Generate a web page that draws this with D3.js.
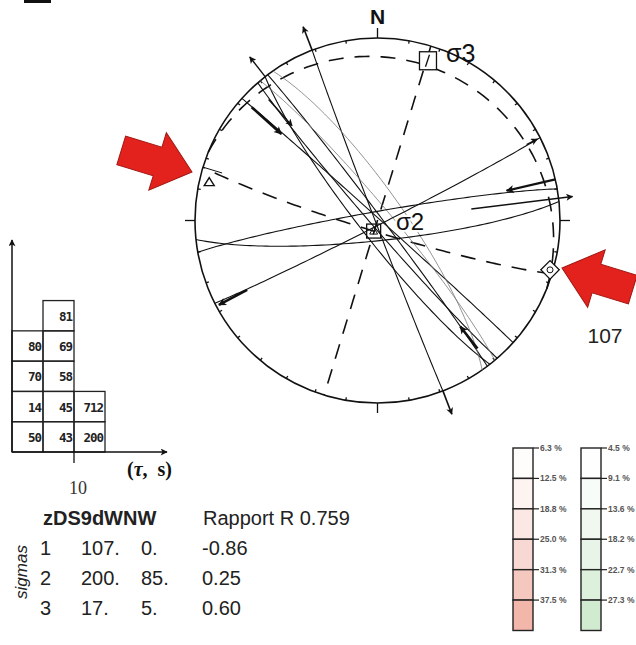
<!DOCTYPE html>
<html><head><meta charset="utf-8">
<script src="https://cdn.jsdelivr.net/npm/d3@7"></script>
<style>html,body{margin:0;padding:0;background:#fff}svg{display:block}</style>
</head><body><svg id="fig" width="636" height="645"></svg>
<script>
// stress tensor result (table under the net)
const siteName = 'zDS9dWNW';
const ratioR = '0.759';
const sigmaIds = [1, 2, 3];
const sigmaTrend = [107, 200, 17];
const sigmaPlunge = [0, 85, 5];
const sigmaRatio = ['-0.86', '0.25', '0.60'];

const faultDipDir = [249, 232, 42, 229, 53, 55, 50, 350, 174, 153];
const faultDip    = [89, 82, 89, 87, 88, 78, 84, 86, 81, 88];
const faultFaint  = [0, 0, 0, 0, 0, 1, 1, 0, 0, 0];

// principal planes (dashed)
const planeDipDir = [107, 197, 22];
const planeDip    = [90, 85, 12];

// striae (trend, plunge) and slip sense: 1 = outward, -1 = inward
const striaeTrend  = [339, 159, 322, 312, 318, 142, 242, 63, 83, 77];
const striaePlunge = [0, 0, 0, 8, 6, 12, 3, 2, 0, 0];
const striaeSense  = [1, 1, 1, -1, -1, -1, 1, 1, 1, -1];

// tau / s histogram, columns bottom-up
const tauCols = [[50, 14, 70, 80], [43, 45, 58, 69, 81], [200, 712]];
const tauTick = '10';

// legend levels
const redLevels   = ['6.3 %', '12.5 %', '18.8 %', '25.0 %', '31.3 %', '37.5 %'];
const greenLevels = ['4.5 %', '9.1 %', '13.6 %', '18.2 %', '22.7 %', '27.3 %'];

const svg = d3.select('#fig');
const SANS = 'Liberation Sans, Arial, sans-serif';
const SERIF = 'Liberation Serif, Times New Roman, serif';
const CX = 377.5, CY = 220.5, R = 182.5;
const k = Math.PI / 180;
const rad = d3.scaleLinear().domain([0, 1]).range([0, R]);

function proj(trend, plunge) {
  const r = rad(Math.SQRT2 * Math.sin((90 - plunge) / 2 * k));
  return [CX + r * Math.sin(trend * k), CY - r * Math.cos(trend * k)];
}
function greatCircle(dd, dip) {
  const s = (dd - 90) * k, D = dd * k, d = dip * k;
  const sv = [Math.sin(s), Math.cos(s)];
  const dv = [Math.cos(d) * Math.sin(D), Math.cos(d) * Math.cos(D), Math.sin(d)];
  return d3.range(0, 180.01, 2).map(t => {
    const c = Math.cos(t * k), sn = Math.sin(t * k);
    const e = c * sv[0] + sn * dv[0], n = c * sv[1] + sn * dv[1], z = sn * dv[2];
    return proj(Math.atan2(e, n) / k, Math.asin(Math.min(1, z)) / k);
  });
}
const line = d3.line().curve(d3.curveLinear);

const defs = svg.append('defs');
[['ah', 10, 7], ['ahBig', 13, 8]].forEach(([id, w, h]) => {
  defs.append('marker').attr('id', id).attr('viewBox', '0 0 10 10')
    .attr('refX', 9).attr('refY', 5).attr('markerWidth', w).attr('markerHeight', h)
    .attr('markerUnits', 'userSpaceOnUse').attr('orient', 'auto')
    .append('path').attr('d', 'M0,0 L10,5 L0,10 L2.5,5 Z').attr('fill', '#111');
});

svg.append('rect').attr('x', 24).attr('y', 0).attr('width', 27).attr('height', 3).attr('fill', '#111');

// ---- stereonet ----
const net = svg.append('g');
net.append('circle').attr('cx', CX).attr('cy', CY).attr('r', R)
  .attr('fill', 'none').attr('stroke', '#111').attr('stroke-width', 1.6);
d3.range(0, 360, 10).forEach(a => {
  const card = a % 90 === 0;
  const r0 = card ? R : R - 3, r1 = card ? R + 10 : R;
  net.append('line')
    .attr('x1', CX + r0 * Math.sin(a * k)).attr('y1', CY - r0 * Math.cos(a * k))
    .attr('x2', CX + r1 * Math.sin(a * k)).attr('y2', CY - r1 * Math.cos(a * k))
    .attr('stroke', '#111').attr('stroke-width', 1.3);
});
net.append('text').attr('x', CX).attr('y', 24).attr('text-anchor', 'middle')
  .attr('font-family', SANS).attr('font-weight', 700).attr('font-size', 21).attr('fill', '#111').text('N');

// dashed principal planes
planeDipDir.forEach((dd, i) => {
  net.append('path').attr('d', line(greatCircle(dd, planeDip[i])))
    .attr('fill', 'none').attr('stroke', '#111').attr('stroke-width', 1.6)
    .attr('stroke-dasharray', '15,11');
});

// fault planes
faultDipDir.forEach((dd, i) => {
  net.append('path').attr('d', line(greatCircle(dd, faultDip[i])))
    .attr('fill', 'none').attr('stroke', faultFaint[i] ? '#777' : '#111')
    .attr('stroke-width', faultFaint[i] ? 0.8 : 1.1);
});

// striae arrows, [from, to, width] along the radial direction (outward +)
const arrowGeom = [[0, 25, 1.6], [0, 25, 1.6], [0, 25, 1.4], [0, -40, 2.6], [-10, -45, 1.4],
                   [0, -28, 2.6], [-30, 2, 2.6], [-12, 0, 1.4], [-88, 14, 1.4], [0, -50, 2.2]];
striaeTrend.forEach((t, i) => {
  const p = proj(t, striaePlunge[i]);
  const ux = Math.sin(t * k), uy = -Math.cos(t * k);
  let [a, b, w] = arrowGeom[i];
  if (striaeSense[i] < 0 && b > a) [a, b] = [b, a];
  net.append('line')
    .attr('x1', p[0] + ux * a).attr('y1', p[1] + uy * a)
    .attr('x2', p[0] + ux * b).attr('y2', p[1] + uy * b)
    .attr('stroke', '#111').attr('stroke-width', w)
    .attr('marker-end', w > 2 ? 'url(#ahBig)' : 'url(#ah)');
});

// compression direction marks
const pW = proj(sigmaTrend[0] + 180, 0);
net.append('line').attr('x1', pW[0]).attr('y1', pW[1])
  .attr('x2', pW[0] + 20 * Math.sin(sigmaTrend[0] * k)).attr('y2', pW[1] - 20 * Math.cos(sigmaTrend[0] * k))
  .attr('stroke', '#111').attr('stroke-width', 1);
const tri = proj(283, 6);
net.append('path').attr('d', `M${tri[0]},${tri[1] - 4} L${tri[0] + 5},${tri[1] + 4} L${tri[0] - 5},${tri[1] + 4} Z`)
  .attr('fill', '#fff').attr('stroke', '#111').attr('stroke-width', 1.4);

// sigma symbols
const s1 = proj(sigmaTrend[0], sigmaPlunge[0]);
const s2 = proj(sigmaTrend[1], sigmaPlunge[1]);
const s3 = proj(sigmaTrend[2], sigmaPlunge[2]);
net.append('rect').attr('x', s1[0] - 2 - 6.5).attr('y', s1[1] - 4 - 6.5).attr('width', 13).attr('height', 13)
  .attr('transform', `rotate(45 ${s1[0] - 2} ${s1[1] - 4})`)
  .attr('fill', '#fff').attr('stroke', '#111').attr('stroke-width', 1.3);
net.append('circle').attr('cx', s1[0] - 2).attr('cy', s1[1] - 4).attr('r', 3)
  .attr('fill', 'none').attr('stroke', '#111').attr('stroke-width', 1);

net.append('rect').attr('x', s2[0] - 7).attr('y', s2[1] - 7).attr('width', 14).attr('height', 14)
  .attr('fill', 'none').attr('stroke', '#111').attr('stroke-width', 1.3);
net.append('path').attr('d', `M${s2[0]},${s2[1] - 4} L${s2[0] + 4},${s2[1] + 3} L${s2[0] - 4},${s2[1] + 3} Z`)
  .attr('fill', 'none').attr('stroke', '#111').attr('stroke-width', 1);

net.append('rect').attr('x', s3[0] - 9).attr('y', s3[1] - 2).attr('width', 17).attr('height', 18)
  .attr('fill', '#fff').attr('stroke', '#111').attr('stroke-width', 1.3);
net.append('line').attr('x1', s3[0] - 3).attr('y1', s3[1] + 13).attr('x2', s3[0] + 1).attr('y2', s3[1] + 1)
  .attr('stroke', '#111').attr('stroke-width', 1.3);

net.append('text').attr('x', 446).attr('y', 62).attr('font-family', SANS).attr('font-size', 25)
  .attr('fill', '#111').text('σ3');
net.append('text').attr('x', 396).attr('y', 230).attr('font-family', SANS).attr('font-size', 24)
  .attr('fill', '#111').attr('stroke', '#fff').attr('stroke-width', 4).attr('paint-order', 'stroke').text('σ2');

// red compression arrows
function bigArrow(tip, ang) {
  const pts = [[0, 0], [-36, -30], [-36, -15], [-74, -15], [-74, 15], [-36, 15], [-36, 30]];
  svg.append('path').attr('d', 'M' + pts.map(p => p.join(',')).join('L') + 'Z')
    .attr('transform', `translate(${tip[0]},${tip[1]}) rotate(${ang})`)
    .attr('fill', '#e3221e').attr('stroke', '#a01812').attr('stroke-width', 1);
}
bigArrow([192, 172], sigmaTrend[0] - 90);
bigArrow([562, 268], sigmaTrend[0] + 90);
svg.append('text').attr('x', 605).attr('y', 343).attr('text-anchor', 'middle')
  .attr('font-family', SANS).attr('font-size', 21).attr('fill', '#222').text(sigmaTrend[0]);

// ---- tau / s histogram ----
const xG = d3.scaleLinear().domain([0, 5]).range([12, 167]);
const yG = d3.scaleLinear().domain([0, 7]).range([452, 240]);
const hist = svg.append('g');
tauCols.forEach((col, i) => col.forEach((v, j) => {
  hist.append('rect').attr('x', xG(i)).attr('y', yG(j + 1))
    .attr('width', xG(i + 1) - xG(i)).attr('height', yG(j) - yG(j + 1))
    .attr('fill', 'none').attr('stroke', '#222').attr('stroke-width', 1.3);
  hist.append('text').attr('x', xG(i + 1) - 2).attr('y', (yG(j) + yG(j + 1)) / 2 + 5)
    .attr('text-anchor', 'end').attr('font-family', 'DejaVu Sans Mono, monospace')
    .attr('font-weight', 700).attr('font-size', 12.5).attr('letter-spacing', -1)
    .attr('fill', '#222').text(v);
}));
hist.append('line').attr('x1', xG(0)).attr('y1', yG(0)).attr('x2', xG(0)).attr('y2', yG(7))
  .attr('stroke', '#111').attr('stroke-width', 1.5).attr('marker-end', 'url(#ah)');
hist.append('line').attr('x1', xG(0)).attr('y1', yG(0)).attr('x2', xG(5)).attr('y2', yG(0))
  .attr('stroke', '#111').attr('stroke-width', 1.5).attr('marker-end', 'url(#ah)');
hist.append('line').attr('x1', xG(2)).attr('y1', yG(0)).attr('x2', xG(2)).attr('y2', yG(0) + 11)
  .attr('stroke', '#111').attr('stroke-width', 1.3);
hist.append('text').attr('x', xG(2) + 4).attr('y', 494).attr('text-anchor', 'middle')
  .attr('font-family', SERIF).attr('font-size', 18).attr('fill', '#333').text(tauTick);
hist.append('text').attr('x', 127).attr('y', 476)
  .attr('font-family', SERIF).attr('font-weight', 700).attr('font-size', 20).attr('fill', '#111')
  .html('(<tspan font-style="italic">τ</tspan>,&#160;&#160;s)');

// ---- table ----
const tab = svg.append('g').attr('font-family', SANS).attr('fill', '#222');
tab.append('text').attr('x', 43).attr('y', 525).attr('font-weight', 700).attr('font-size', 20).text(siteName);
tab.append('text').attr('x', 203).attr('y', 525).attr('font-size', 20).text('Rapport R ' + ratioR);
const rowY = d3.scaleLinear().domain([0, 2]).range([555, 615]);
sigmaIds.forEach((id, i) => {
  const y = rowY(i);
  tab.append('text').attr('x', 40).attr('y', y).attr('font-size', 20).text(id);
  tab.append('text').attr('x', 81).attr('y', y).attr('font-size', 20).text(sigmaTrend[i] + '.');
  tab.append('text').attr('x', 141).attr('y', y).attr('font-size', 20).text(sigmaPlunge[i] + '.');
  tab.append('text').attr('x', 202).attr('y', y).attr('font-size', 20).text(sigmaRatio[i]);
});
tab.append('text').attr('transform', 'translate(27,572) rotate(-90)').attr('text-anchor', 'middle')
  .attr('font-style', 'italic').attr('font-size', 17).text('sigmas');

// ---- legend ----
const legY = d3.scaleLinear().domain([0, 6]).range([448, 630.5]);
function legend(x0, labels, top) {
  const col = d3.interpolateRgb('#ffffff', top);
  const g = svg.append('g');
  labels.forEach((lab, i) => {
    g.append('rect').attr('x', x0).attr('y', legY(i)).attr('width', 20).attr('height', legY(i + 1) - legY(i))
      .attr('fill', col(Math.pow((i + 0.5) / 6, 1.4))).attr('stroke', '#222').attr('stroke-width', 1.4);
    g.append('line').attr('x1', x0 + 20).attr('x2', x0 + 26).attr('y1', legY(i)).attr('y2', legY(i))
      .attr('stroke', '#222').attr('stroke-width', 1.2);
    g.append('text').attr('x', x0 + 27).attr('y', legY(i) + 3).attr('font-family', SANS)
      .attr('font-size', 8.5).attr('font-weight', 700).attr('fill', '#555').text(lab);
  });
}
legend(513, redLevels, '#f0aca0');
legend(581, greenLevels, '#cbe8cb');
</script></body></html>
